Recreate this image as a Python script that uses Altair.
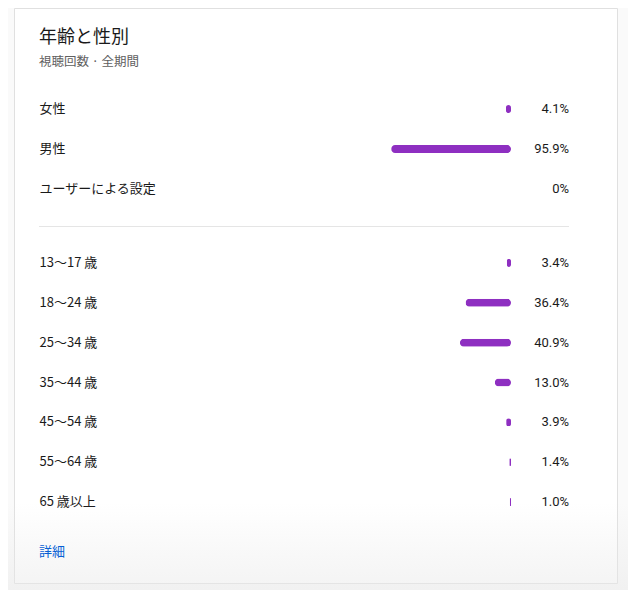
import altair as alt
import pandas as pd

# ---- data ----
gender_labels = ["女性", "男性", "ユーザーによる設定"]
gender_values = [4.1, 95.9, 0.0]
age_labels = ["13〜17 歳", "18〜24 歳", "25〜34 歳", "35〜44 歳", "45〜54 歳", "55〜64 歳", "65 歳以上"]
age_values = [3.4, 36.4, 40.9, 13.0, 3.9, 1.4, 1.0]
title_text = "年齢と性別"
subtitle_text = "視聴回数 · 全期間"
link_text = "詳細"


def pct(v):
    return "0%" if v == 0 else f"{v:.1f}%"


gender_df = pd.DataFrame({"label": gender_labels, "value": gender_values,
                          "text": [pct(v) for v in gender_values]})
age_df = pd.DataFrame({"label": age_labels, "value": age_values,
                       "text": [pct(v) for v in age_values]})

FONT = "Roboto, 'Noto Sans CJK JP', 'Noto Sans', sans-serif"
JFONT = "'Noto Sans CJK JP', Roboto, sans-serif"
PURPLE = "#8e2fc1"
TEXT = "#1a1a1a"

xscale = alt.Scale(domain=[0, 100], range=[497, 372], nice=False, zero=True)


def panel(df, domain, yrange):
    ysc = alt.Scale(domain=domain, range=yrange, paddingInner=0, paddingOuter=0)
    yaxis = alt.Axis(orient="left", title=None, domain=False, ticks=False, grid=False,
                     labelAlign="left", labelBaseline="middle", labelPadding=-25,
                     labelFont=JFONT, labelFontSize=13, labelColor=TEXT, labelLimit=300)
    bars = alt.Chart(df).mark_bar(size=8, cornerRadius=4, color=PURPLE).encode(
        x=alt.X("value:Q", scale=xscale, axis=None),
        y=alt.Y("label:N", sort=domain, scale=ysc, axis=yaxis),
    )
    txt = alt.Chart(df).mark_text(align="right", baseline="middle", dx=58,
                                  font=FONT, fontSize=13, color=TEXT).encode(
        x=alt.datum(0),
        y=alt.Y("label:N", sort=domain),
        text="text:N",
    )
    return alt.layer(bars, txt)


gender_panel = panel(gender_df, gender_labels, [81, 201])
age_panel = panel(age_df, age_labels, [235, 514])

divider = alt.Chart(alt.Data(values=[{"a": 0}])).mark_rule(color="#e5e5e5", strokeWidth=1).encode(
    x=alt.value(25), x2=alt.value(555), y=alt.value(218.5)
)

link = alt.Chart(alt.Data(values=[{"t": link_text}])).mark_text(
    align="left", baseline="middle", font=JFONT, fontSize=13, color="#065fd4"
).encode(x=alt.value(25), y=alt.value(544), text="t:N")

shade = alt.Chart(alt.Data(values=[{"a": 0}])).mark_rect(
    fill=alt.Gradient(
        gradient="linear",
        stops=[alt.GradientStop(color="rgba(232,232,232,0)", offset=0),
               alt.GradientStop(color="rgba(232,232,232,0.55)", offset=1)],
        x1=0, x2=0, y1=0, y2=1,
    )
).encode(x=alt.value(-6), x2=alt.value(614), y=alt.value(495), y2=alt.value(590))

chart = alt.layer(gender_panel, age_panel, divider, shade, link).resolve_scale(
    y="independent"
).resolve_axis(y="independent").properties(
    width=603,
    height=575,
    autosize=alt.AutoSizeParams(type="none"),
    padding={"left": 6, "top": 0, "right": 11, "bottom": 7},
    background="#fafafa",
    title=alt.TitleParams(
        text=title_text, subtitle=subtitle_text, anchor="start", frame="group",
        dx=25, dy=60, offset=0, font=JFONT, fontSize=18, fontWeight="normal", color=TEXT,
        subtitleFont=JFONT, subtitleFontSize=12.5, subtitleColor="#606060", subtitlePadding=9,
    ),
).configure_view(fill="white", stroke="#e0e0e0")

chart.save("out.html", embed_options={"renderer": "svg", "actions": False})
